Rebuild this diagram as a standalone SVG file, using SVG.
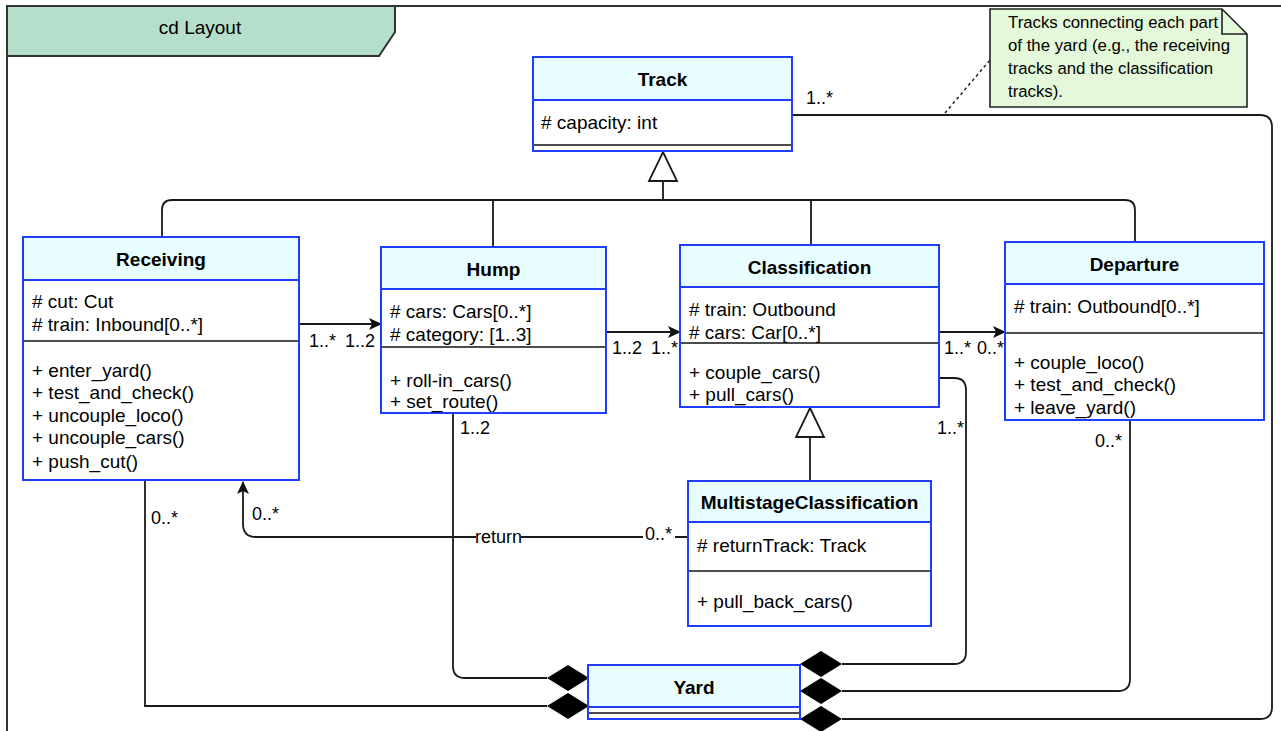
<svg xmlns="http://www.w3.org/2000/svg" xmlns:xlink="http://www.w3.org/1999/xlink" width="1281" height="731" viewBox="0 0 1281 731">
<style>
text{font-family:"Liberation Sans",Arial,Helvetica,sans-serif;fill:#000}
.t{font-size:19px;font-weight:bold;text-anchor:middle}
.a{font-size:19px}
.m{font-size:18px}
.n{font-size:16.8px}
.hd{fill:#e8fdfd;stroke:#1f3dff;stroke-width:2}
.bd{fill:#fff;stroke:#1f3dff;stroke-width:2}
.sep{stroke:#111;stroke-width:1.6}
.c{fill:none;stroke:#1a1a1a;stroke-width:1.8}
.gen{fill:#fff;stroke:#1a1a1a;stroke-width:1.8}
.dia{fill:#000;stroke:none}
</style>
<defs>
<marker id="arr" markerWidth="14" markerHeight="12" refX="12" refY="6" orient="auto" markerUnits="userSpaceOnUse">
<path d="M0,0 L13,6 L0,12 L3,6 z" fill="#111"/>
</marker>
<path id="dm" class="dia" d="M0,0 L21,-13 L42,0 L21,13 z"/>
</defs>
<rect width="1281" height="731" fill="#fff"/>
<g id="frame">
<path d="M7,731 L7,6 L1281,6" fill="none" stroke="#333" stroke-width="2"/>
<path d="M7,6 L395,6 L395,32 L379,56 L7,56 z" fill="#b5dfca" stroke="#333" stroke-width="2"/>
<text x="200" y="34" class="a" text-anchor="middle">cd Layout</text>
</g>
<g id="connectors">
<!-- generalization to Track -->
<path class="c" d="M663,181 L663,200 M172,200 L1125,200 M162,237 L162,210 Q162,200 172,200 M1125,200 Q1135,200 1135,210 L1135,242 M493,200 L493,247 M811,200 L811,245"/>
<path class="gen" d="M663,152 L677,181 L649,181 z"/>
<!-- generalization Multistage to Classification -->
<path class="c" d="M810,437 L810,481"/>
<path class="gen" d="M810,408 L824,437 L796,437 z"/>
<!-- associations -->
<path class="c" d="M299,324 L381,324" marker-end="url(#arr)"/>
<path class="c" d="M606,332 L680,332" marker-end="url(#arr)"/>
<path class="c" d="M939,332 L1005,332" marker-end="url(#arr)"/>
<!-- return -->
<path class="c" d="M688,537 L256,537 Q243,537 243,524 L243,482" marker-end="url(#arr)"/>
<!-- compositions to Yard -->
<path class="c" d="M145,480 L145,706 L547,706"/>
<path class="c" d="M453,413 L453,666 Q453,678 465,678 L547,678"/>
<path class="c" d="M939,378 L954,378 Q966,378 966,390 L966,652 Q966,664 954,664 L842,664"/>
<path class="c" d="M1130,420 L1130,679 Q1130,691 1118,691 L842,691"/>
<path class="c" d="M792,115 L1260,115 Q1272,115 1272,127 L1272,707 Q1272,719 1260,719 L842,719"/>
<use href="#dm" x="547" y="678"/>
<use href="#dm" x="547" y="706"/>
<use href="#dm" x="800" y="664"/>
<use href="#dm" x="800" y="691"/>
<use href="#dm" x="800" y="719"/>
<!-- note link -->
<path d="M945,113 L990,60" fill="none" stroke="#222" stroke-width="1.5" stroke-dasharray="3,3"/>
<!-- labels -->
<text class="m" x="806" y="104">1..*</text>
<text class="m" x="309" y="347">1..*</text>
<text class="m" x="345" y="347">1..2</text>
<text class="m" x="612" y="354">1..2</text>
<text class="m" x="651" y="354">1..*</text>
<text class="m" x="944" y="354">1..*</text>
<text class="m" x="977" y="354">0..*</text>
<text class="m" x="460" y="434">1..2</text>
<text class="m" x="937" y="434">1..*</text>
<text class="m" x="1095" y="447">0..*</text>
<text class="m" x="151" y="524">0..*</text>
<text class="m" x="252" y="520">0..*</text>
<rect x="476" y="528" width="45" height="18" fill="#fff"/>
<text class="m" x="498.5" y="543" text-anchor="middle" font-size="17">return</text>
<rect x="643" y="528" width="32" height="16" fill="#fff"/>
<text class="m" x="645" y="540">0..*</text>
</g>
<g id="note">
<path d="M990,9 L1222,9 L1247,34 L1247,107 L990,107 z" fill="#e4f9d9" stroke="#222" stroke-width="1.6"/>
<path d="M1222,9 L1222,34 L1247,34" fill="none" stroke="#222" stroke-width="1.6"/>
<text class="n" x="1008" y="28">Tracks connecting each part</text>
<text class="n" x="1008" y="51">of the yard (e.g., the receiving</text>
<text class="n" x="1008" y="74">tracks and the classification</text>
<text class="n" x="1008" y="97">tracks).</text>
</g>
<g id="track">
<rect class="bd" x="533" y="57" width="259" height="94"/>
<rect class="hd" x="533" y="57" width="259" height="43"/>
<line class="sep" x1="534" y1="145" x2="791" y2="145"/>
<text class="t" x="662.5" y="86">Track</text>
<text class="a" x="541" y="129"># capacity: int</text>
</g>
<g id="receiving">
<rect class="bd" x="23" y="237" width="276" height="243"/>
<rect class="hd" x="23" y="237" width="276" height="43"/>
<line class="sep" x1="24" y1="341" x2="298" y2="341"/>
<text class="t" x="161" y="266">Receiving</text>
<text class="a" x="32" y="308"># cut: Cut</text>
<text class="a" x="32" y="331"># train: Inbound[0..*]</text>
<text class="a" x="32" y="377">+ enter_yard()</text>
<text class="a" x="32" y="399">+ test_and_check()</text>
<text class="a" x="32" y="422">+ uncouple_loco()</text>
<text class="a" x="32" y="444">+ uncouple_cars()</text>
<text class="a" x="32" y="468">+ push_cut()</text>
</g>
<g id="hump">
<rect class="bd" x="381" y="247" width="225" height="166"/>
<rect class="hd" x="381" y="247" width="225" height="42"/>
<line class="sep" x1="382" y1="347" x2="605" y2="347"/>
<text class="t" x="493.5" y="276">Hump</text>
<text class="a" x="390" y="318"># cars: Cars[0..*]</text>
<text class="a" x="390" y="341"># category: [1..3]</text>
<text class="a" x="390" y="387">+ roll-in_cars()</text>
<text class="a" x="390" y="408">+ set_route()</text>
</g>
<g id="classification">
<rect class="bd" x="680" y="245" width="259" height="162"/>
<rect class="hd" x="680" y="245" width="259" height="42"/>
<line class="sep" x1="681" y1="343" x2="938" y2="343"/>
<text class="t" x="809.5" y="274">Classification</text>
<text class="a" x="689" y="316"># train: Outbound</text>
<text class="a" x="689" y="339"># cars: Car[0..*]</text>
<text class="a" x="689" y="379">+ couple_cars()</text>
<text class="a" x="689" y="401">+ pull_cars()</text>
</g>
<g id="departure">
<rect class="bd" x="1005" y="242" width="259" height="178"/>
<rect class="hd" x="1005" y="242" width="259" height="42"/>
<line class="sep" x1="1006" y1="333" x2="1263" y2="333"/>
<text class="t" x="1134.5" y="271">Departure</text>
<text class="a" x="1014" y="313"># train: Outbound[0..*]</text>
<text class="a" x="1014" y="369">+ couple_loco()</text>
<text class="a" x="1014" y="391">+ test_and_check()</text>
<text class="a" x="1014" y="414">+ leave_yard()</text>
</g>
<g id="multistage">
<rect class="bd" x="688" y="481" width="243" height="145"/>
<rect class="hd" x="688" y="481" width="243" height="41"/>
<line class="sep" x1="689" y1="571" x2="930" y2="571"/>
<text class="t" x="809.5" y="509">MultistageClassification</text>
<text class="a" x="697" y="552"># returnTrack: Track</text>
<text class="a" x="697" y="608">+ pull_back_cars()</text>
</g>
<g id="yard">
<rect class="bd" x="588" y="665" width="212" height="54"/>
<rect class="hd" x="588" y="665" width="212" height="42"/>
<line class="sep" x1="589" y1="713" x2="799" y2="713"/>
<text class="t" x="694" y="694">Yard</text>
</g>
</svg>
